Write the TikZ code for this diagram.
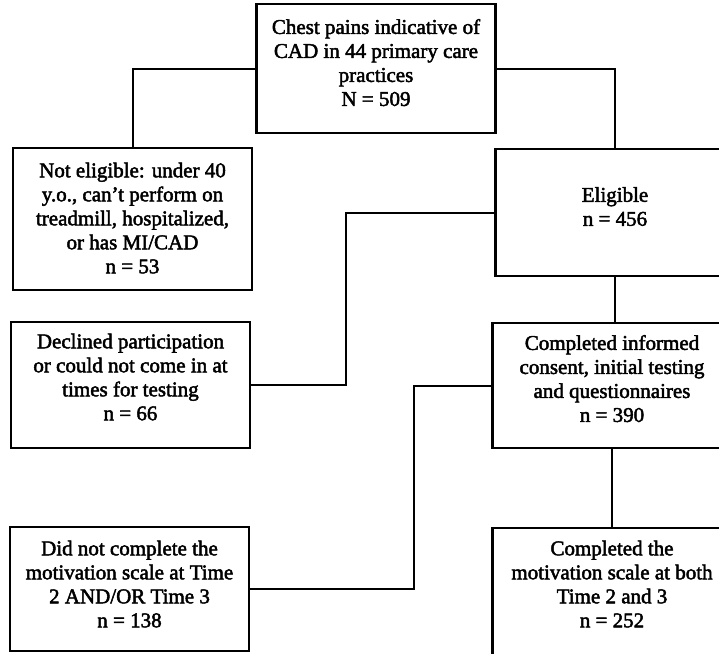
\documentclass[tikz,border=0pt]{standalone}
\usepackage{fontspec}
\setmainfont{Liberation Serif}
\newfontfamily\scanfont[Ligatures=TeX, FakeBold=2.2]{Liberation Serif}

\begin{document}
\begin{tikzpicture}[
    x=1pt, y=-1pt,
    box/.style={rectangle, draw=black, line width=2.1pt, fill=white, minimum width=239pt, inner sep=0pt, text depth=12pt, align=center, font=\scanfont\fontsize{21}{24}\selectfont},
    link/.style={line width=2pt}
]
\useasboundingbox (0,0) rectangle (719,653);

% -- TOP: all referred patients --
\node[box, minimum height=129pt] (chest) at (376,68.5) {Chest pains indicative of\\CAD in 44 primary care\\practices\\N = 509};

% -- ROW 1: eligibility --
\node[box, minimum height=142pt, text depth=2pt] (noelig) at (132.5,219) {Not eligible: under 40\\y.o., can’t perform on\\treadmill, hospitalized,\\or has MI/CAD\\n = 53};
\node[box, minimum height=127pt] (elig) at (615,212.5) {Eligible\\n = 456};

\draw[link] (chest.west) -| (noelig.north);
\draw[link] (chest.east) -| (elig.north);

% -- ROW 2: consent --
\node[box, minimum height=126pt, text depth=16pt] (declined) at (130.5,385) {Declined participation\\or could not come in at\\times for testing\\n = 66};
\node[box, minimum height=125pt, text depth=14pt] (consent) at (612,385.5) {Completed informed\\consent, initial testing\\and questionnaires\\n = 390};

\draw[link] (elig.west) -- +(-148,0) |- (declined.east);
\draw[link] (elig.south) -- (elig.south |- consent.north);

% -- ROW 3: follow-up --
\node[box, minimum height=124pt, text depth=10pt] (dropped) at (129.5,589) {Did not complete the\\motivation scale at Time\\2 AND/OR Time 3\\n = 138};
\node[box, minimum height=140pt, text depth=28pt] (both) at (612,598) {Completed the\\motivation scale at both\\Time 2 and 3\\n = 252};

\draw[link] (consent.west) -- +(-77,0) |- (dropped.east);
\draw[link] (consent.south) -- (both.north);

\end{tikzpicture}
\end{document}
